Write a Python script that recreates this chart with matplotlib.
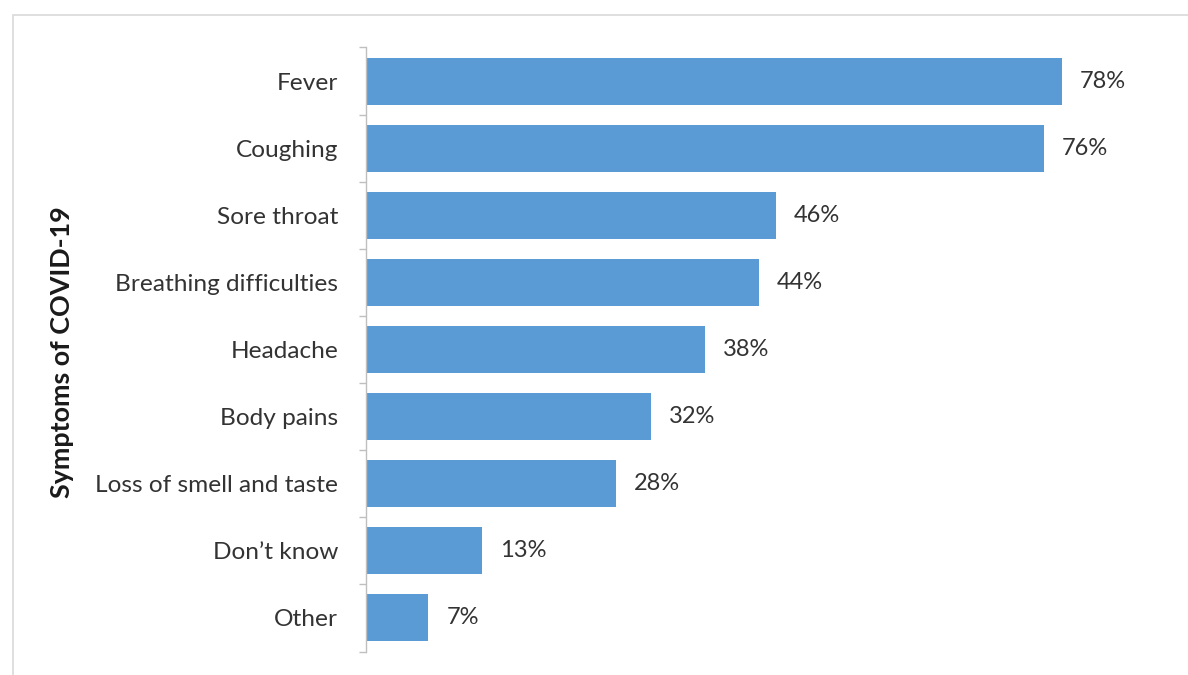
import matplotlib.pyplot as plt
from matplotlib.patches import Rectangle
import numpy as np

plt.rcParams['font.family'] = ['Lato', 'DejaVu Sans']

symptoms = ['Fever', 'Coughing', 'Sore throat', 'Breathing difficulties',
            'Headache', 'Body pains', 'Loss of smell and taste',
            "Don\u2019t know", 'Other']
shares = [78, 76, 46, 44, 38, 32, 28, 13, 7]

text_color = '#333333'
bar_color = '#5b9bd5'
axis_color = '#bfbfbf'

W, H = 1188, 675
fig = plt.figure(figsize=(W / 100, H / 100), dpi=100)

# light frame around the chart area
fig.patches.append(Rectangle((13 / W, -0.1), 1.2, 1 - 15 / H + 0.1,
                             transform=fig.transFigure, fill=False,
                             edgecolor='#d9d9d9', linewidth=1.2))

ax = fig.add_axes([366 / W, 1 - 651.5 / H, (1151 - 366) / W, (651.5 - 47.5) / H])

y = np.arange(len(symptoms))
ax.barh(y, shares, height=0.7, color=bar_color)
ax.set_ylim(len(symptoms) - 0.5, -0.5)
ax.set_xlim(0, 88)

for yi, v in zip(y, shares):
    ax.text(v + 2.0, yi, f'{v}%', va='center', ha='left',
            fontsize=17, color=text_color)

ax.set_yticks(y)
ax.set_yticklabels(symptoms, fontsize=17.6, color=text_color)
ax.set_yticks(np.arange(len(symptoms) + 1) - 0.5, minor=True)
ax.tick_params(axis='y', which='major', length=0, pad=20)
ax.tick_params(axis='y', which='minor', length=5, color=axis_color, width=1)
ax.set_xticks([])

for s in ['top', 'right', 'bottom']:
    ax.spines[s].set_visible(False)
ax.spines['left'].set_color(axis_color)
ax.spines['left'].set_linewidth(1)

fig.text(62 / W, 1 - 352 / H, 'Symptoms of COVID-19', rotation=90,
         ha='center', va='center', fontsize=19.4, fontweight='bold',
         color='#1a1a1a')

fig.savefig('out.png', dpi=100)
